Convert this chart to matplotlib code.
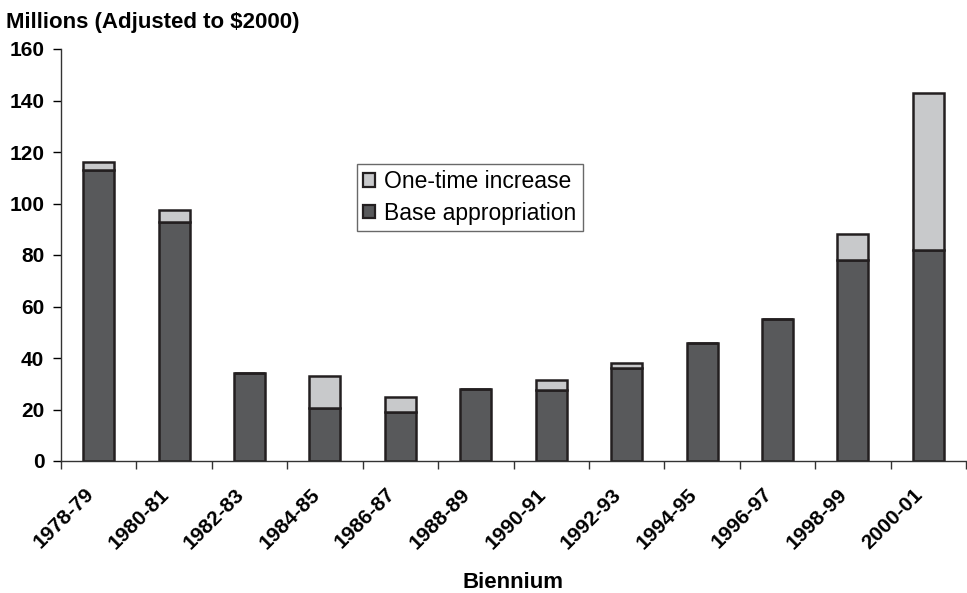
import matplotlib
matplotlib.use("Agg")
import matplotlib.pyplot as plt
import matplotlib.transforms as mtransforms
import numpy as np
from matplotlib.patches import Patch

bienniums = ["1978-79", "1980-81", "1982-83", "1984-85", "1986-87", "1988-89",
             "1990-91", "1992-93", "1994-95", "1996-97", "1998-99", "2000-01"]
base_appropriation = [113, 93, 34, 20.5, 19, 28, 27.5, 36, 45.7, 55, 78, 82]
one_time_increase = [3, 4.5, 0, 12.5, 5.7, 0, 4, 2.2, 0, 0, 10, 61]

plt.rcParams['font.family'] = ['Liberation Sans', 'DejaVu Sans']

dark = "#58595b"
light = "#c8c9cb"
edge = "#231f20"
W, H = 967, 593

fig = plt.figure(figsize=(W / 100, H / 100), dpi=100)
ax = fig.add_axes([61 / W, 132 / H, 905 / W, 412 / H])

x = np.arange(len(bienniums))
w = 0.41
ax.bar(x, base_appropriation, width=w, color=dark, edgecolor=edge, linewidth=1.8, zorder=2)
ax.bar(x, one_time_increase, width=w, bottom=base_appropriation, color=light,
       edgecolor=edge, linewidth=1.8, zorder=2)

ax.set_xlim(-0.5, len(bienniums) - 0.5)
ax.set_ylim(0, 160)
ax.set_yticks(np.arange(0, 161, 20))
ax.tick_params(axis='y', labelsize=15, length=6, width=1, pad=6)
for t in ax.get_yticklabels():
    t.set_fontweight('bold')

ax.set_xticks(x)
ax.set_xticklabels(bienniums, rotation=45, ha='right', va='top', rotation_mode='anchor',
                   fontsize=15, fontweight='bold')
ax.tick_params(axis='x', which='major', length=0, pad=17)
shift = mtransforms.ScaledTranslation(-15 / 100, 0, fig.dpi_scale_trans)
for t in ax.get_xticklabels():
    t.set_transform(t.get_transform() + shift)
ax.set_xticks(np.arange(-0.5, len(bienniums)), minor=True)
ax.tick_params(axis='x', which='minor', length=5.5, width=1, color='#333333')

for s in ['top', 'right']:
    ax.spines[s].set_visible(False)
for s in ['left', 'bottom']:
    ax.spines[s].set_linewidth(1)
    ax.spines[s].set_color('#333333')

fig.text(6 / W, 1 - 28 / H, "Millions (Adjusted to $2000)", fontsize=16,
         fontweight='bold', va='baseline', ha='left')
fig.text(513 / W, 1 - 587.5 / H, "Biennium", fontsize=16, fontweight='bold',
         va='baseline', ha='center')

handles = [Patch(facecolor=light, edgecolor=edge, linewidth=1.6, label="One-time increase"),
           Patch(facecolor=dark, edgecolor=edge, linewidth=1.6, label="Base appropriation")]
leg = fig.legend(handles=handles, loc='upper left',
                 bbox_to_anchor=(357 / W, 1 - 164 / H),
                 fontsize=16.5, frameon=True, fancybox=False,
                 handlelength=0.54, handleheight=0.54, handletextpad=0.4, borderpad=0.26,
                 labelspacing=0.38, borderaxespad=0)
leg.get_frame().set_edgecolor('#444444')
leg.get_frame().set_linewidth(1)

fig.savefig("out.png", dpi=100)
